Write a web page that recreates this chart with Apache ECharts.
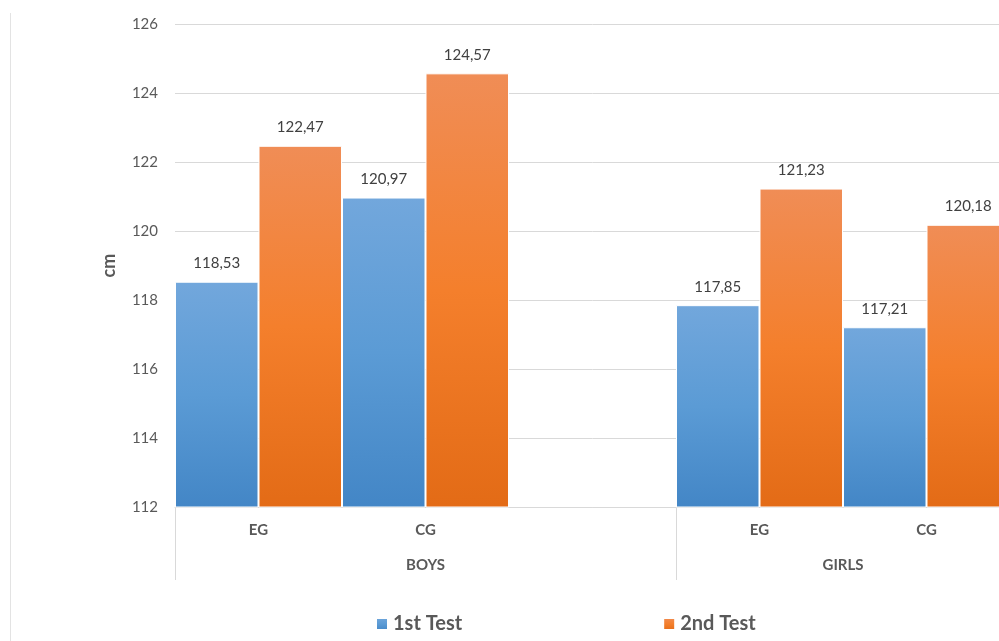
<!DOCTYPE html>
<html><head><meta charset="utf-8">
<script src="https://cdn.jsdelivr.net/npm/echarts@6/dist/echarts.min.js"></script>
<style>html,body{margin:0;padding:0;background:#fff;overflow:hidden}#c{width:1010px;height:641px}</style>
</head><body><div id="c"></div>
<script>
// ---- data ----
const categories = ['EG', 'CG', '', 'EG', 'CG'];
const groups = ['BOYS', 'GIRLS'];
const groupSpans = [3, 2];
const seriesNames = ['1st Test', '2nd Test'];
const test1 = [118.53, 120.97, null, 117.85, 117.21];
const test2 = [122.47, 124.57, null, 121.23, 120.18];
const yMin = 112, yMax = 126, yStep = 2;
const yTitle = 'cm';

// ---- derived ----
const total = groupSpans.reduce((a, b) => a + b, 0);
const groupStarts = [], groupCenters = [];
let acc = 0;
groupSpans.forEach(s => { groupStarts.push(acc); groupCenters.push(acc + s / 2); acc += s; });

const FONT = 'Lato, "Open Sans", sans-serif';
const TXT = '#595959';
const GRID = '#d9d9d9';

function grad(top, mid, bot) {
  return new echarts.graphic.LinearGradient(0, 0, 0, 1, [
    { offset: 0, color: top }, { offset: 0.5, color: mid }, { offset: 1, color: bot }
  ]);
}
const fmt = p => (p.value == null ? '' : p.value.toFixed(2).replace('.', ','));

const chart = echarts.init(document.getElementById('c'));
chart.setOption({
  backgroundColor: '#fff',
  animation: false,
  textStyle: { fontFamily: FONT },
  grid: { left: 175, right: 0, top: 24, bottom: 134 },
  legend: {
    data: seriesNames,
    left: 370, top: 609,
    icon: 'rect', itemWidth: 12, itemHeight: 12, itemGap: 200,
    textStyle: { fontFamily: FONT, fontSize: 20, color: TXT, fontWeight: 'bold' }
  },
  xAxis: [
    {
      type: 'category', data: categories,
      axisLine: { show: true, lineStyle: { color: GRID, width: 1 } },
      axisTick: { show: false },
      axisLabel: { color: TXT, fontSize: 15, fontWeight: 'bold', margin: 16, fontFamily: FONT }
    },
    {
      type: 'value', min: 0, max: total, position: 'bottom',
      axisLine: { show: false }, splitLine: { show: false },
      axisTick: { show: true, customValues: groupStarts, length: 73, lineStyle: { color: GRID } },
      axisLabel: {
        customValues: groupCenters, margin: 51, color: TXT, fontSize: 15, fontWeight: 'bold', fontFamily: FONT,
        formatter: v => { const i = groupCenters.indexOf(v); return i >= 0 ? groups[i] : ''; }
      }
    }
  ],
  yAxis: {
    type: 'value', min: yMin, max: yMax, interval: yStep,
    name: yTitle, nameLocation: 'middle', nameGap: 57, nameRotate: 90,
    nameTextStyle: { color: TXT, fontSize: 18, fontWeight: 'bold', fontFamily: FONT },
    axisLine: { show: false }, axisTick: { show: false },
    axisLabel: { color: TXT, fontSize: 15, margin: 17, fontFamily: FONT },
    splitLine: { lineStyle: { color: GRID, width: 1 } }
  },
  graphic: [{
    type: 'line', shape: { x1: 10.5, y1: 13, x2: 10.5, y2: 641 },
    style: { stroke: '#e3e3e3', lineWidth: 1 }, silent: true
  }],
  series: [
    {
      name: seriesNames[0], type: 'bar', data: test1,
      barGap: '0%', barCategoryGap: '0%',
      itemStyle: { color: grad('#72a7dc', '#5b9bd5', '#4386c6'), borderColor: '#fff', borderWidth: 1 },
      label: { show: true, position: 'top', distance: 11, formatter: fmt, color: '#404040', fontSize: 15, fontFamily: FONT }
    },
    {
      name: seriesNames[1], type: 'bar', data: test2,
      barGap: '0%', barCategoryGap: '0%',
      itemStyle: { color: grad('#f08d56', '#f47f2c', '#e36b16'), borderColor: '#fff', borderWidth: 1 },
      label: { show: true, position: 'top', distance: 11, formatter: fmt, color: '#404040', fontSize: 15, fontFamily: FONT }
    }
  ]
});
</script></body></html>
